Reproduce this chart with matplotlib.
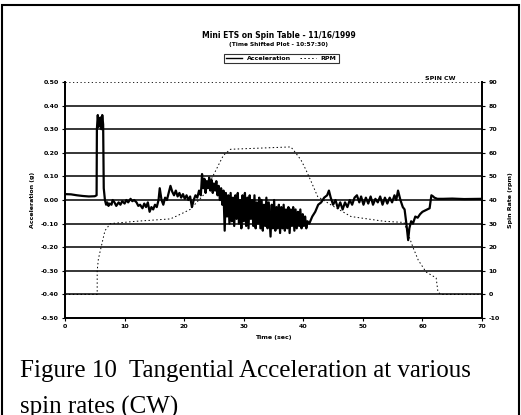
import numpy as np
import matplotlib
matplotlib.use("Agg")
import matplotlib.pyplot as plt
from matplotlib.patches import Rectangle
from matplotlib.lines import Line2D

# Acceleration trace (time in s, acceleration in g)
acc_t = [0, 1, 2, 3, 4, 5, 5.3, 5.35, 5.5, 5.65, 5.8, 5.95, 6.1, 6.25, 6.4, 6.5,
         6.7, 6.9, 7.1, 7.3, 7.5, 7.8, 8.0, 8.3, 8.6, 9.0, 9.3, 9.6, 10.0, 10.3,
         10.6, 11.0, 11.3, 11.6, 12.0, 12.3, 12.6, 13.0, 13.3, 13.6, 13.9, 14.2,
         14.5, 14.8, 15.1, 15.4, 15.7, 15.9, 16.2, 16.5, 16.8, 17.1, 17.4, 17.7,
         18.0, 18.3, 18.6, 18.9, 19.2, 19.5, 19.8, 20.1, 20.4, 20.7, 21.0, 21.3,
         21.6, 21.9, 22.2, 22.5, 22.8, 23.0, 23.2, 23.4, 23.6, 23.8, 24.0, 24.2,
         24.4, 24.6, 24.8, 25.0, 25.2, 25.4, 25.6, 25.8, 26.0, 26.2, 26.4, 26.6,
         26.8, 27.0, 27.2, 27.4, 27.6, 27.8, 28.0, 28.2, 28.4, 28.6, 28.8, 29.0,
         29.2, 29.4, 29.6, 29.8, 30.0, 30.2, 30.4, 30.6, 30.8, 31.0, 31.2, 31.4,
         31.6, 31.8, 32.0, 32.2, 32.4, 32.6, 32.8, 33.0, 33.2, 33.4, 33.6, 33.8,
         34.0, 34.2, 34.5, 34.7, 34.9, 35.1, 35.3, 35.5, 35.7, 35.9, 36.1, 36.3,
         36.5, 36.7, 36.9, 37.1, 37.3, 37.5, 37.7, 37.9, 38.1, 38.3, 38.5, 38.7,
         38.9, 39.1, 39.3, 39.5, 39.7, 39.9, 40.1, 40.3, 40.5, 40.7, 41.0, 41.5,
         42.0, 42.5, 43.0, 43.5, 44.0, 44.3, 44.6, 45.0, 45.4, 45.8, 46.2, 46.6,
         47.0, 47.4, 47.8, 48.2, 48.6, 49.0, 49.4, 49.7, 50.1, 50.5, 50.9, 51.3,
         51.7, 52.1, 52.5, 52.9, 53.3, 53.7, 54.1, 54.5, 54.9, 55.3, 55.6, 55.9,
         56.3, 56.7, 57.0, 57.3, 57.6, 57.8, 58.1, 58.4, 58.8, 59.2, 59.6, 60.0,
         60.4, 60.8, 61.2, 61.4, 61.5, 61.8, 62.0, 62.5, 63.5, 65, 67, 70]
acc_g = [0.025, 0.024, 0.02, 0.017, 0.015, 0.016, 0.02, 0.30, 0.36, 0.31, 0.34, 0.35, 0.30, 0.36, 0.32, 0.05,
         0.0, -0.02, -0.01, -0.025, -0.015, -0.02, 0.0, -0.01, -0.025, -0.01, -0.02, -0.005, -0.015, 0.0,
         -0.01, 0.005, -0.005, 0.0, -0.01, -0.025, -0.02, -0.035, -0.015, -0.03, -0.01, -0.05,
         -0.03, -0.04, -0.02, -0.03, 0.0, 0.05, 0.0, -0.02, 0.01, 0.0, 0.03, 0.06,
         0.035, 0.02, 0.04, 0.015, 0.03, 0.01, 0.025, 0.005, 0.02, 0.0, 0.015, -0.03,
         0.0, 0.02, 0.01, 0.04, 0.02, 0.11, 0.05, 0.09, 0.03, 0.08, 0.05, 0.095,
         0.04, 0.085, 0.03, 0.07, 0.04, 0.08, 0.02, 0.06, 0.0, 0.05, -0.02, 0.04,
         -0.13, 0.03, -0.07, 0.02, -0.10, 0.03, -0.09, 0.01, -0.11, 0.02, -0.08, 0.03,
         -0.10, 0.0, -0.12, 0.02, -0.09, 0.03, -0.11, 0.01, -0.12, 0.02, -0.08, 0.0,
         -0.11, 0.02, -0.12, -0.01, -0.10, 0.01, -0.12, 0.0, -0.13, -0.02, -0.11, 0.01,
         -0.12, -0.01, -0.155, -0.02, -0.12, 0.0, -0.13, -0.03, -0.12, -0.02, -0.14, -0.03,
         -0.12, -0.02, -0.13, -0.04, -0.12, -0.03, -0.14, -0.04, -0.11, -0.03, -0.13, -0.04,
         -0.12, -0.05, -0.11, -0.04, -0.12, -0.06, -0.11, -0.07, -0.12, -0.09, -0.10, -0.07,
         -0.05, -0.02, -0.01, 0.01, 0.02, 0.04, 0.01, -0.02, 0.0, -0.035, -0.01, -0.04,
         -0.01, -0.03, 0.0, -0.02, 0.01, 0.02, -0.01, 0.015, -0.02, 0.01, -0.015, 0.015,
         -0.02, 0.005, -0.01, 0.015, -0.02, 0.01, -0.015, 0.01, -0.01, 0.02, 0.0, 0.04,
         0.0, -0.03, -0.04, -0.10, -0.17, -0.12, -0.09, -0.10, -0.07, -0.075, -0.06, -0.05,
         -0.045, -0.04, -0.035, 0.0, 0.02, 0.015, 0.01, 0.005, 0.005, 0.006, 0.004, 0.005]

# Spin rate (rpm), right axis
rpm_t = [0, 5.4, 5.4, 5.6, 6.7, 7.6, 12, 17.7, 19.4, 21.0, 23.2, 25.6, 26.6, 27.8,
         37.9, 38.4, 39.6, 40.4, 41.2, 42.4, 44.6, 48.0, 53.5, 56.9, 58.4, 59.3,
         60.6, 62.3, 62.6, 63.1, 70]
rpm = [0, 0, 10, 15, 27, 30, 31, 32, 34, 36, 42, 54, 59, 61.5,
       62.5, 61, 57, 53, 48.5, 41.5, 38, 33, 31, 30.5, 20, 14.5,
       9.5, 7, 1, 0, 0]

left_ticks = [0.5, 0.4, 0.3, 0.2, 0.1, 0.0, -0.1, -0.2, -0.3, -0.4, -0.5]
right_ticks = [90, 80, 70, 60, 50, 40, 30, 20, 10, 0, -10]
x_ticks = [0, 10, 20, 30, 40, 50, 60, 70]

tiny = dict(fontsize=4.5, fontweight="bold", family="DejaVu Sans")

fig = plt.figure(figsize=(5.21, 4.15), dpi=100)
ax = fig.add_axes([0.1248, 0.2337, 0.8004, 0.5687])
ax2 = ax.twinx()

# gridlines
for v in left_ticks[1:-1]:
    ax.axhline(v, color="black", lw=1.1, zorder=1)
ax.axhline(0.5, color="black", lw=0.6, ls=(0, (1.5, 3)), zorder=1)

ax.plot(acc_t, acc_g, color="black", lw=1.6, zorder=3)
ax2.plot(rpm_t, rpm, color="black", lw=0.7, ls=(0, (1.5, 2.5)), zorder=2)

ax.set_xlim(0, 70)
ax.set_ylim(-0.5, 0.5)
ax2.set_ylim(-10, 90)
ax.set_xticks(x_ticks)
ax.set_yticks(left_ticks)
ax.set_yticklabels(["%.2f" % v for v in left_ticks], **tiny)
ax.set_xticklabels([str(v) for v in x_ticks], **tiny)
ax2.set_yticks(right_ticks)
ax2.set_yticklabels([str(v) for v in right_ticks], **tiny)

for a in (ax, ax2):
    a.spines["top"].set_visible(False)
    a.spines["left"].set_linewidth(1.3)
    a.spines["right"].set_linewidth(1.3)
    a.spines["bottom"].set_linewidth(1.3)
    a.tick_params(length=2.5, width=0.8, pad=2)

ax.set_xlabel("Time (sec)", labelpad=4, **tiny)
ax.set_ylabel("Acceleration (g)", labelpad=4, **tiny)
ax2.set_ylabel("Spin Rate (rpm)", labelpad=6, **tiny)

fig.text(0.535, 0.915, "Mini ETS on Spin Table - 11/16/1999", ha="center", va="center",
         fontsize=5.5, fontweight="bold")
fig.text(0.535, 0.892, "(Time Shifted Plot - 10:57:30)", ha="center", va="center",
         fontsize=4.2, fontweight="bold")
fig.text(0.845, 0.812, "SPIN CW", ha="center", va="center", **tiny)

handles = [Line2D([], [], color="black", lw=1.0),
           Line2D([], [], color="black", lw=0.7, ls=(0, (1.5, 2.5)))]
leg = fig.legend(handles, ["Acceleration", "RPM"], loc="center",
                 bbox_to_anchor=(0.54, 0.86), ncol=2, frameon=True,
                 prop=dict(size=4.5, weight="bold"), handlelength=2.5,
                 columnspacing=1.5, borderpad=0.3, fancybox=False)
leg.get_frame().set_edgecolor("black")
leg.get_frame().set_linewidth(0.8)

# caption under the chart (second line is cut by the page edge, as in the scan)
fig.text(0.038, 1 - 377 / 415, "Figure 10  Tangential Acceleration at various",
         ha="left", va="baseline", fontsize=18, family="Liberation Serif")
fig.text(0.038, 1 - 414 / 415, "spin rates (CW)",
         ha="left", va="baseline", fontsize=18, family="Liberation Serif")

# page frame of the scan
fig.add_artist(Rectangle((0.003, -0.01), 0.993, 0.998, transform=fig.transFigure,
                         fill=False, edgecolor="black", lw=1.5))

fig.savefig("out.png", dpi=100)
